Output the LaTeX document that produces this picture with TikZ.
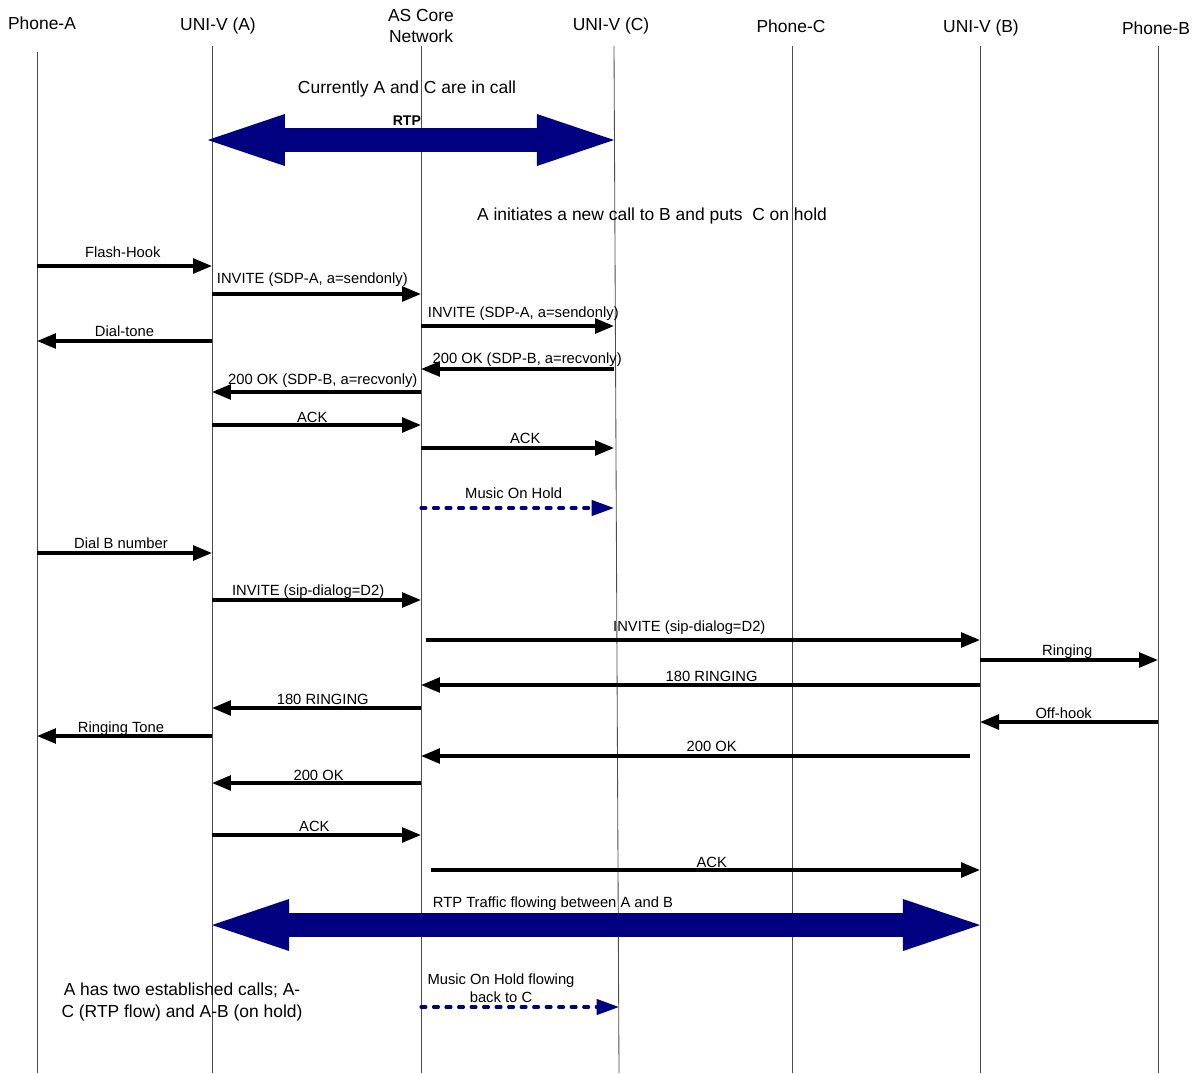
\documentclass[tikz,border=0pt]{standalone}
\usepackage{fontspec}
\setmainfont{Liberation Sans}
\usetikzlibrary{arrows.meta}
\definecolor{navy}{RGB}{0,0,128}

\begin{document}
\begin{tikzpicture}[
    x=0.025cm,
    y=-0.025cm,
    head/.style={align=center, inner sep=0pt, font=\fontsize{12.4}{15.6}\selectfont},
    note/.style={align=center, inner sep=0pt, font=\fontsize{12.4}{15}\selectfont},
    lbl/.style={anchor=base, inner sep=0pt, text=black, font=\fontsize{10.5}{12.8}\selectfont},
    life/.style={draw=black!70, line width=0.6pt},
    msg/.style={-{Triangle[length=13.5pt,width=10.5pt]}, line width=2.4pt},
    hold/.style={
        -{Triangle[length=16pt,width=11pt]},
        navy,
        line width=2.2pt,
        line cap=round,
        dash pattern=on 3.5pt off 5.4pt
    },
    rtp/.style={
        {Triangle[length=54.8pt,width=37pt,line width=0pt]}-{Triangle[length=54.8pt,width=37pt,line width=0pt]},
        navy,
        line width=16.4pt
    }
]
\useasboundingbox (0,0) rectangle (1200,1073);

% ============================================================
% LINIE ZYCIA
% ============================================================
\coordinate (pa) at (37,52);
\coordinate (ua) at (212,46);
\coordinate (as) at (421,46);
\coordinate (uc) at (614,46);
\coordinate (uc-end) at (619,1073);
\coordinate (pc) at (792,46);
\coordinate (ub) at (980,46);
\coordinate (pb) at (1158,46);
\coordinate (bot) at (0,1073);

\foreach \l in {pa,ua,as,pc,ub,pb}
    \draw[life] (\l) -- (\l |- bot);
\draw[life] (uc) -- (uc-end);

\node[head] (pa-h) at (42,23) {Phone-A};
\node[head] (ua-h) at (218,26) {UNI-V (A)};
\node[head] (as-h) at (421,26) {AS Core\\Network};
\node[head] (uc-h) at (611,26) {UNI-V (C)};
\node[head] (pc-h) at (791,26) {Phone-C};
\node[head] (ub-h) at (981,28) {UNI-V (B)};
\node[head] (pb-h) at (1156,28) {Phone-B};

% ============================================================
% ROZMOWA A-C
% ============================================================
\node[note] (n-call) at (407,89) {Currently A and C are in call};
\draw[rtp] ([xshift=-3pt]ua |- 0,140) -- node[lbl, font=\fontsize{10}{12}\selectfont\bfseries, pos=.49, yshift=10.5pt] (rtp-ac) {RTP} (uc |- 0,140);

% ============================================================
% C NA HOLD
% ============================================================
\node[note] (n-hold) at (652,216) {A initiates a new call to B and puts~ C on hold};

\draw[msg] (pa |- 0,266) -- node[lbl, pos=.49, yshift=6.2pt] (m1) {Flash-Hook} (ua |- 0,266);
\draw[msg] (ua |- 0,294) -- node[lbl, pos=.48, yshift=7.6pt] (m2) {INVITE (SDP-A, a=sendonly)} (as |- 0,294);
\draw[msg] (as |- 0,326) -- node[lbl, pos=.53, yshift=6.2pt] (m3) {INVITE (SDP-A, a=sendonly)} (uc |- 0,326);
\draw[msg] (ua |- 0,341) -- node[lbl, pos=.5, yshift=3.3pt] (m4) {Dial-tone} (pa |- 0,341);
\draw[msg] (uc |- 0,369) -- node[lbl, pos=.45, yshift=4pt] (m5) {200 OK (SDP-B, a=recvonly)} (as |- 0,369);
\draw[msg] (as |- 0,392) -- node[lbl, pos=.47, yshift=5.5pt] (m6) {200 OK (SDP-B, a=recvonly)} (ua |- 0,392);
\draw[msg] (ua |- 0,425) -- node[lbl, pos=.48, yshift=2pt] (m7) {ACK} (as |- 0,425);
\draw[msg] (as |- 0,448) -- node[lbl, pos=.54, yshift=3.3pt] (m8) {ACK} (uc |- 0,448);

\draw[hold] (as |- 0,508) -- node[lbl, pos=.48, yshift=6.9pt] (m9) {Music On Hold} (uc |- 0,508);

% ============================================================
% NOWE POLACZENIE A-B
% ============================================================
\draw[msg] (pa |- 0,553) -- node[lbl, pos=.48, yshift=3.3pt] (m10) {Dial B number} (ua |- 0,553);
\draw[msg] (ua |- 0,600) -- node[lbl, pos=.46, yshift=3.3pt] (m11) {INVITE (sip-dialog=D2)} (as |- 0,600);
\draw[msg, shorten <=3.5pt] (as |- 0,640) -- node[lbl, pos=.48, yshift=6.2pt] (m12) {INVITE (sip-dialog=D2)} (ub |- 0,640);
\draw[msg] (ub |- 0,660) -- node[lbl, pos=.49, yshift=3.3pt] (m13) {Ringing} (pb |- 0,660);
\draw[msg] (ub |- 0,685) -- node[lbl, pos=.48, yshift=2.6pt] (m14) {180 RINGING} (as |- 0,685);
\draw[msg] (as |- 0,708) -- node[lbl, pos=.47, yshift=2.6pt] (m15) {180 RINGING} (ua |- 0,708);
\draw[msg] (pb |- 0,722) -- node[lbl, pos=.53, yshift=2.6pt] (m16) {Off-hook} (ub |- 0,722);
\draw[msg] (ua |- 0,736) -- node[lbl, pos=.52, yshift=2.6pt] (m17) {Ringing Tone} (pa |- 0,736);
\draw[msg, shorten <=7pt] (ub |- 0,756) -- node[lbl, pos=.48, yshift=3.3pt] (m18) {200 OK} (as |- 0,756);
\draw[msg] (as |- 0,783) -- node[lbl, pos=.49, yshift=2pt] (m19) {200 OK} (ua |- 0,783);
\draw[msg] (ua |- 0,835) -- node[lbl, pos=.49, yshift=2.6pt] (m20) {ACK} (as |- 0,835);
\draw[msg, shorten <=7pt] (as |- 0,870) -- node[lbl, pos=.52, yshift=2pt] (m21) {ACK} (ub |- 0,870);

\draw[rtp] (ua |- 0,925) -- node[lbl, pos=.444, yshift=12.8pt] (rtp-ab) {RTP Traffic flowing between A and B} (ub |- 0,925);

% ============================================================
% STAN KONCOWY
% ============================================================
\node[lbl, anchor=center, align=center] (m22) at (501,988) {Music On Hold flowing\\back to C};
\draw[hold] (as |- 0,1007) -- (uc-end |- 0,1007);

\node[note] (n-end) at (182,1002) {A has two established calls; A-\\C (RTP flow) and A-B (on hold)};

\end{tikzpicture}
\end{document}
